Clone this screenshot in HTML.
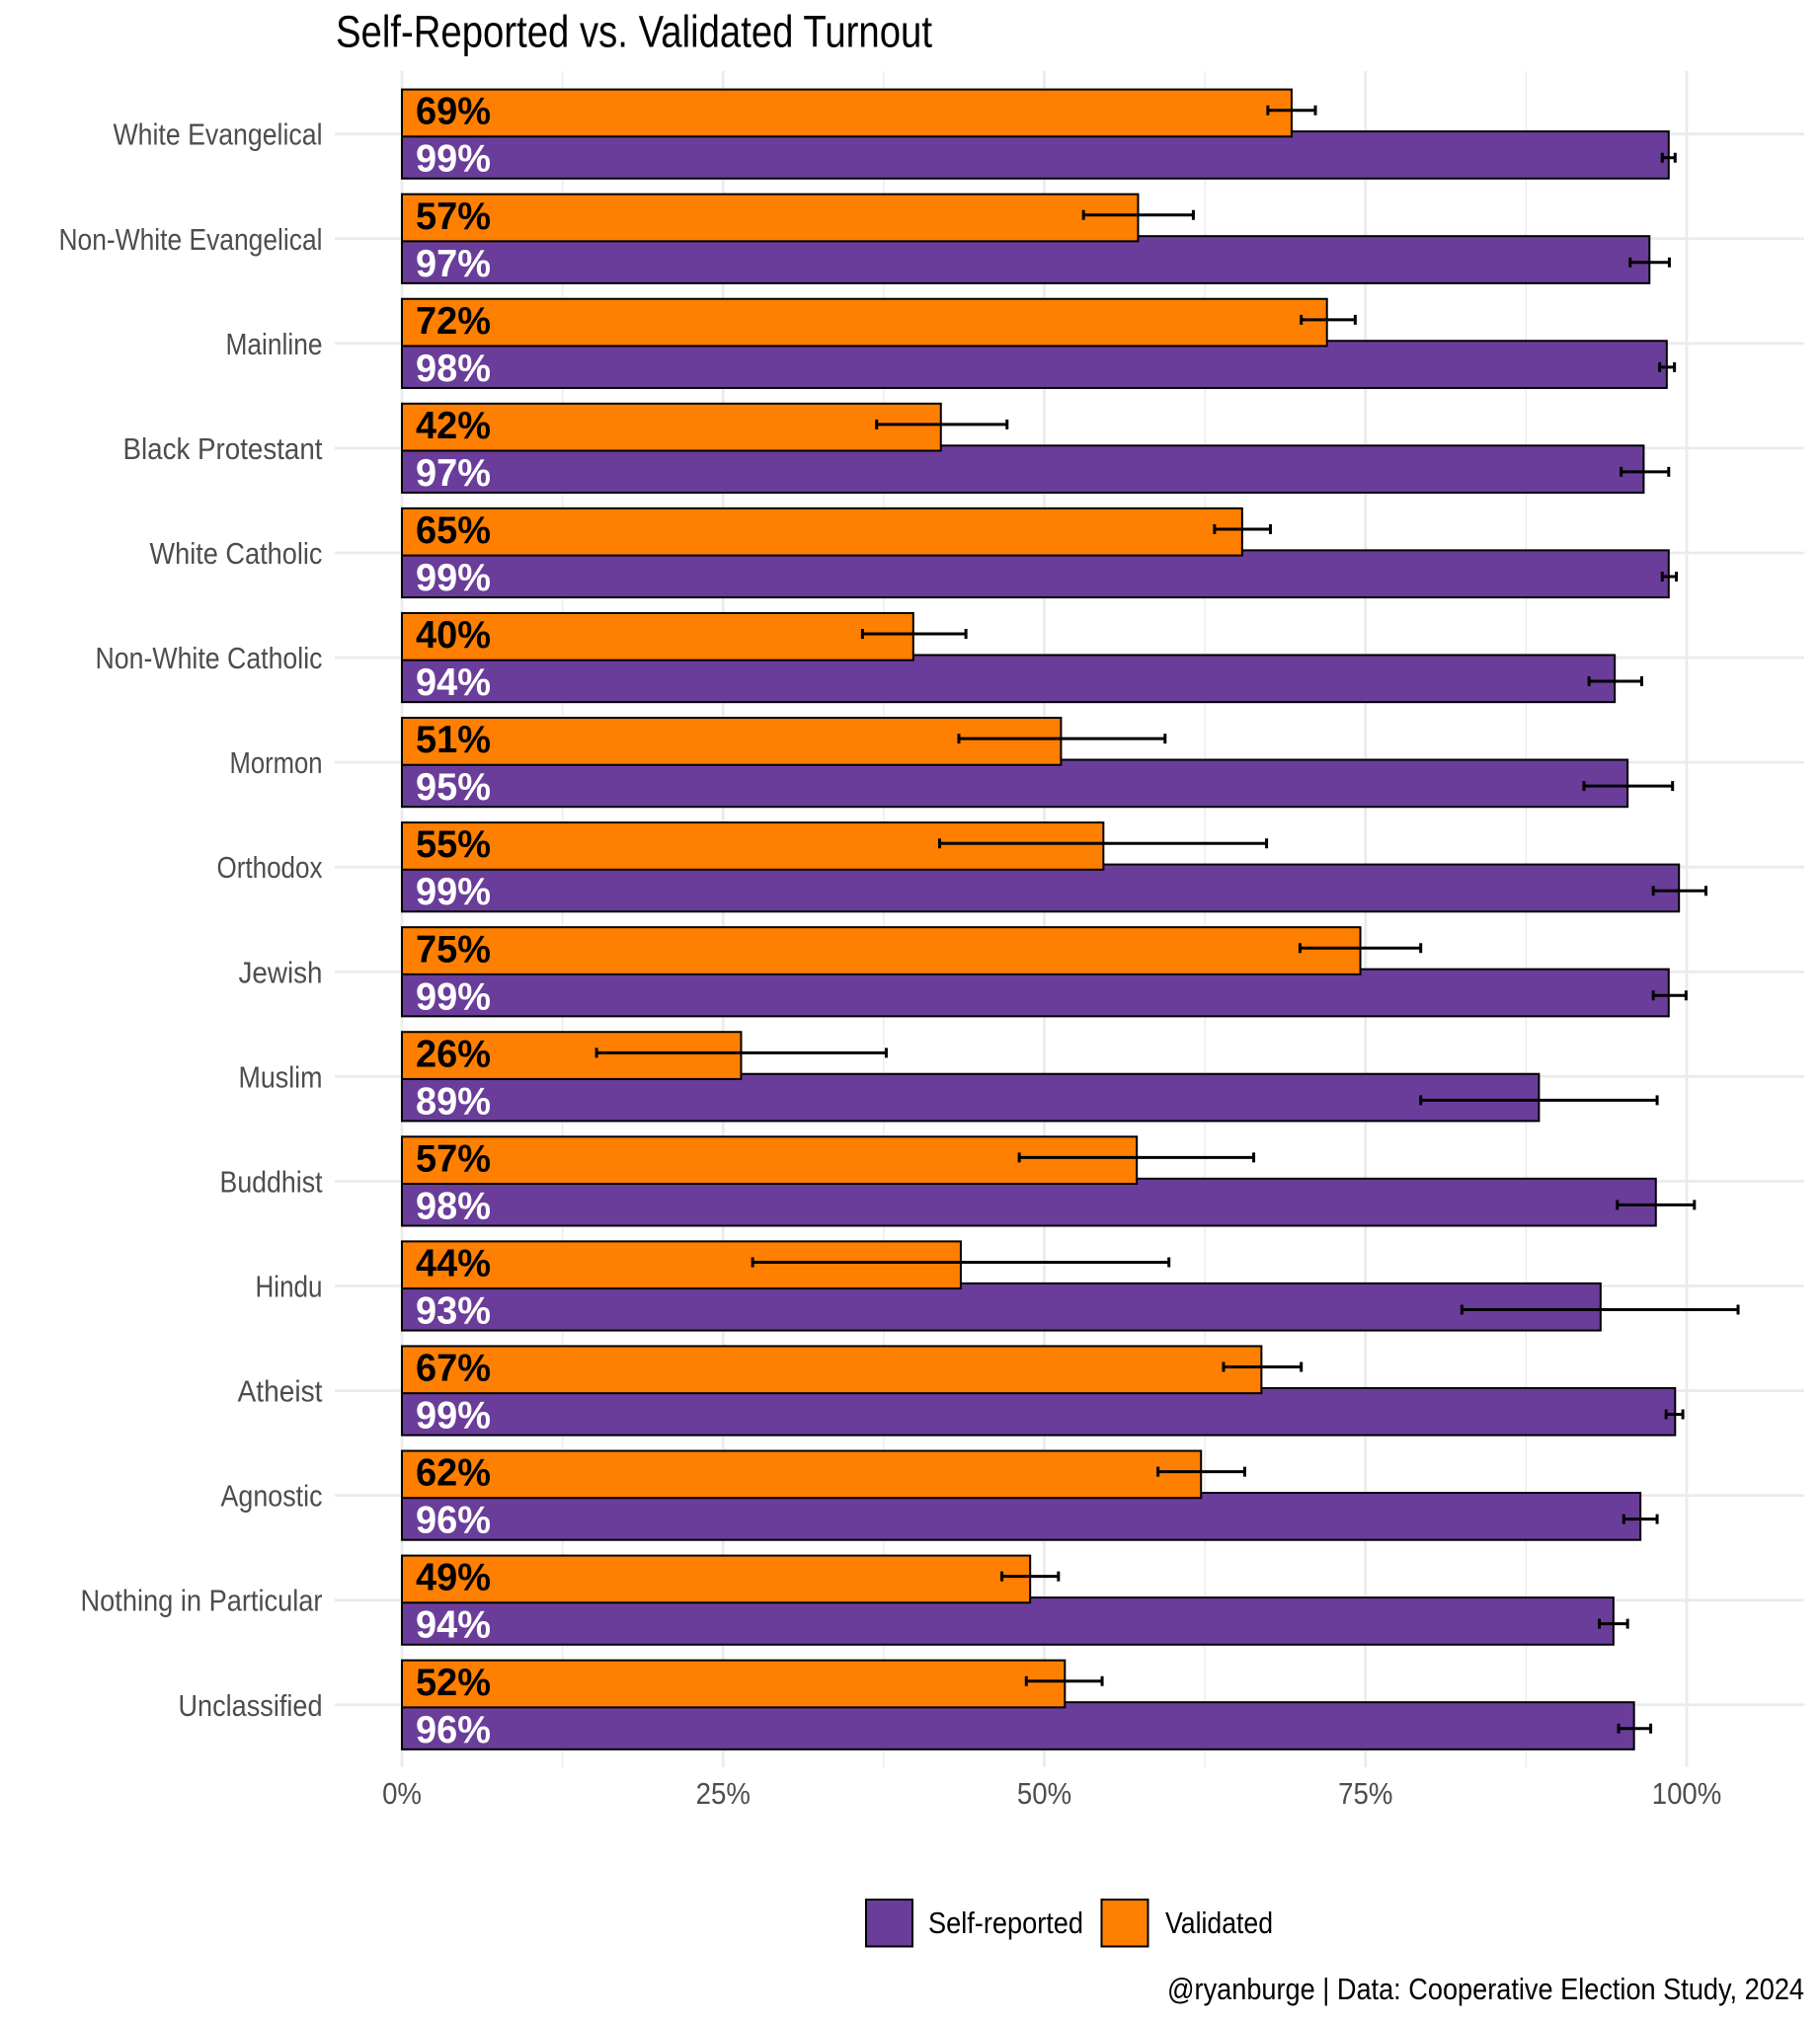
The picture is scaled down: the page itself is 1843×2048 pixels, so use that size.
<!DOCTYPE html>
<html lang="en">
<head>
<meta charset="utf-8">
<title>Self-Reported vs. Validated Turnout</title>
<style>
html,body{margin:0;padding:0;background:#fff;width:1843px;height:2048px;overflow:hidden}
svg{display:block}
text{font-family:"Liberation Sans",sans-serif}
</style>
</head>
<body>
<svg id="chart" xmlns="http://www.w3.org/2000/svg" width="1843" height="2048" viewBox="0 0 1843 2048">
  <rect x="0" y="0" width="1843" height="2048" fill="#ffffff"/>
  <text x="340" y="47.5" font-size="45" fill="#000" textLength="604" lengthAdjust="spacingAndGlyphs">Self-Reported vs. Validated Turnout</text>
  <g id="grid"></g>
  <g id="bars"></g>
  <g id="errors"></g>
  <g id="labels"></g>
  <g id="ylabels" font-size="31" fill="#4d4d4d" text-anchor="end">
    <text x="326.5" textLength="212" lengthAdjust="spacingAndGlyphs">White Evangelical</text>
    <text x="326.5" textLength="267" lengthAdjust="spacingAndGlyphs">Non-White Evangelical</text>
    <text x="326.5" textLength="98" lengthAdjust="spacingAndGlyphs">Mainline</text>
    <text x="326.5" textLength="202" lengthAdjust="spacingAndGlyphs">Black Protestant</text>
    <text x="326.5" textLength="175" lengthAdjust="spacingAndGlyphs">White Catholic</text>
    <text x="326.5" textLength="230" lengthAdjust="spacingAndGlyphs">Non-White Catholic</text>
    <text x="326.5" textLength="94" lengthAdjust="spacingAndGlyphs">Mormon</text>
    <text x="326.5" textLength="107" lengthAdjust="spacingAndGlyphs">Orthodox</text>
    <text x="326.5" textLength="85" lengthAdjust="spacingAndGlyphs">Jewish</text>
    <text x="326.5" textLength="85" lengthAdjust="spacingAndGlyphs">Muslim</text>
    <text x="326.5" textLength="104" lengthAdjust="spacingAndGlyphs">Buddhist</text>
    <text x="326.5" textLength="68" lengthAdjust="spacingAndGlyphs">Hindu</text>
    <text x="326.5" textLength="86" lengthAdjust="spacingAndGlyphs">Atheist</text>
    <text x="326.5" textLength="103" lengthAdjust="spacingAndGlyphs">Agnostic</text>
    <text x="326.5" textLength="245" lengthAdjust="spacingAndGlyphs">Nothing in Particular</text>
    <text x="326.5" textLength="146" lengthAdjust="spacingAndGlyphs">Unclassified</text>
  </g>
  <g id="xlabels"></g>
  <g>
    <rect x="877" y="1924" width="47" height="47.5" fill="#6a3d9a" stroke="#000" stroke-width="2"/>
    <text x="940" y="1958" font-size="31" fill="#000" textLength="157" lengthAdjust="spacingAndGlyphs">Self-reported</text>
    <rect x="1115.5" y="1924" width="47" height="47.5" fill="#ff7f00" stroke="#000" stroke-width="2"/>
    <text x="1180" y="1958" font-size="31" fill="#000" textLength="109" lengthAdjust="spacingAndGlyphs">Validated</text>
  </g>
  <text x="1182" y="2025" font-size="31" fill="#000" textLength="645" lengthAdjust="spacingAndGlyphs">@ryanburge | Data: Cooperative Election Study, 2024</text>
</svg>
<script>
const validated = [69.25,57.3,72.0,41.95,65.4,39.8,51.3,54.6,74.6,26.4,57.2,43.5,66.9,62.2,48.9,51.6];
const validatedLow = [67.4,53.05,70.0,36.95,63.25,35.85,43.35,41.85,69.9,15.15,48.05,27.3,63.95,58.85,46.7,48.6];
const validatedHigh = [71.1,61.6,74.2,47.1,67.6,43.9,59.4,67.3,79.3,37.7,66.3,59.7,70.0,65.6,51.1,54.5];
const selfReported = [98.6,97.1,98.45,96.65,98.6,94.4,95.4,99.4,98.6,88.5,97.6,93.3,99.1,96.4,94.3,95.9];
const selfLow = [98.1,95.6,97.9,94.9,98.1,92.4,92.0,97.4,97.4,79.3,94.6,82.5,98.4,95.1,93.2,94.7];
const selfHigh = [99.1,98.65,99.05,98.6,99.2,96.5,98.9,101.5,99.95,97.7,100.6,104.0,99.7,97.7,95.4,97.2];
const validatedPrinted = [69,57,72,42,65,40,51,55,75,26,57,44,67,62,49,52];
const selfPrinted = [99,97,98,97,99,94,95,99,99,89,98,93,99,96,94,96];
const xTickValues = [0,25,50,75,100];
const xMinorValues = [12.5,37.5,62.5,87.5];

const NS = "http://www.w3.org/2000/svg";
const xScale = v => 407 + 13.01 * v;
const yScale = i => 135.7 + 106.07 * i;
const PANEL = {left:339, right:1827, top:72, bottom:1790};
const BAR_H = 47.7, BAR_OFF = 21.25, ERR_OFF = 24, CAP = 5;

function make(parent, tag, attrs, text) {
  const el = document.createElementNS(NS, tag);
  for (const k in attrs) el.setAttribute(k, attrs[k]);
  if (text !== undefined) el.textContent = text;
  document.getElementById(parent).appendChild(el);
  return el;
}

xMinorValues.forEach(v => {
  const el = make("grid", "line", {x1:xScale(v), x2:xScale(v), y1:PANEL.top, y2:PANEL.bottom, stroke:"#ebebeb", "stroke-width":1.4});
  
  
});
xTickValues.forEach(v => {
  const el = make("grid", "line", {x1:xScale(v), x2:xScale(v), y1:PANEL.top, y2:PANEL.bottom, stroke:"#ebebeb", "stroke-width":2.8});
  
  
  const t = make("xlabels", "text", {x:0, y:0, transform:`translate(${xScale(v)},1827) scale(0.89,1)`, "text-anchor":"middle", "font-size":31, fill:"#4d4d4d"}, v + "%");
  
  
});

Array.from(document.getElementById("ylabels").children).forEach((t, i) => {
  t.setAttribute("y", yScale(i) + 11);
});

validated.forEach((val, i) => {
  const y = yScale(i);
  const g = make("grid", "line", {x1:PANEL.left, x2:PANEL.right, y1:y, y2:y, stroke:"#ebebeb", "stroke-width":2.8});
  
  
});

validated.forEach((val, i) => {
  const y = yScale(i);
  const p = make("bars", "rect", {x:xScale(0), y:y + BAR_OFF - BAR_H / 2, width:xScale(selfReported[i]) - xScale(0), height:BAR_H, fill:"#6a3d9a", stroke:"#000", "stroke-width":2});
  
  
  const o = make("bars", "rect", {x:xScale(0), y:y - BAR_OFF - BAR_H / 2, width:xScale(val) - xScale(0), height:BAR_H, fill:"#ff7f00", stroke:"#000", "stroke-width":2});
  
  
});

function errorBar(lo, hi, y, name) {
  const x1 = xScale(lo), x2 = xScale(hi);
  const d = `M${x1} ${y}H${x2}M${x1} ${y - CAP}V${y + CAP}M${x2} ${y - CAP}V${y + CAP}`;
  const el = make("errors", "path", {d:d, fill:"none", stroke:"#000", "stroke-width":3});
  
  
}
validated.forEach((val, i) => {
  const y = yScale(i);
  errorBar(validatedLow[i], validatedHigh[i], y - ERR_OFF, 'error-bar-validated');
  errorBar(selfLow[i], selfHigh[i], y + ERR_OFF, 'error-bar-self-reported');
});

validated.forEach((val, i) => {
  const y = yScale(i);
  const a = make("labels", "text", {x:421, y:y - ERR_OFF + 14, "font-size":39, "font-weight":"bold", fill:"#000", textLength:76, lengthAdjust:"spacingAndGlyphs"}, validatedPrinted[i] + "%");
  
  
  const b = make("labels", "text", {x:421, y:y + ERR_OFF + 14, "font-size":39, "font-weight":"bold", fill:"#fff", textLength:76, lengthAdjust:"spacingAndGlyphs"}, selfPrinted[i] + "%");
  
  
});
</script>
</body>
</html>
